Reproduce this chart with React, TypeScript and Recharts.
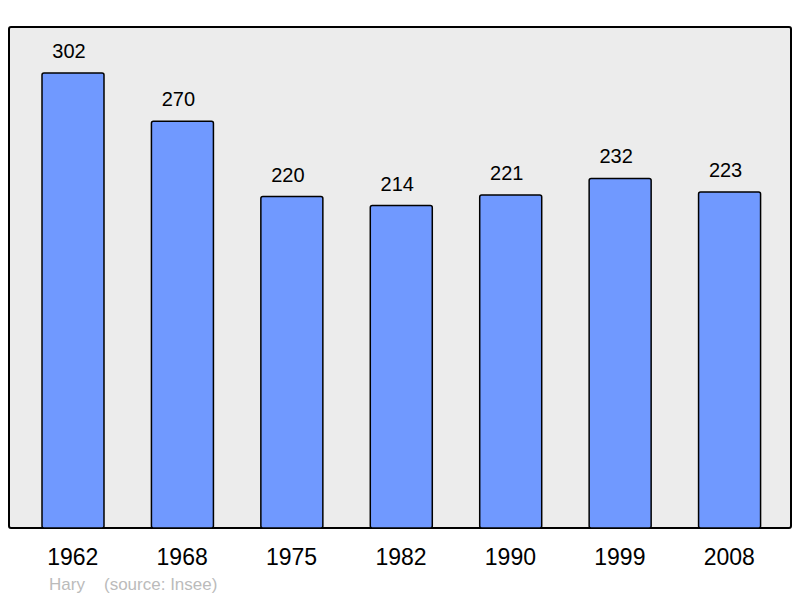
import { BarChart, Bar, XAxis, YAxis, LabelList } from "recharts";

const years = ["1962", "1968", "1975", "1982", "1990", "1999", "2008"];
const population = [302, 270, 220, 214, 221, 232, 223];

const data = years.map((year, i) => ({ year, pop: population[i] }));

const font = '"Liberation Sans", Arial, sans-serif';

const App = () => {
  return (
    <div style={{ position: "absolute", left: 0, top: 0, width: 800, height: 598, background: "#fff" }}>
      {/* grey frame behind the plot */}
      <div
        style={{
          position: "absolute",
          left: 8,
          top: 26,
          width: 784,
          height: 503,
          boxSizing: "border-box",
          border: "2px solid #000",
          borderRadius: 3,
          background: "#ececec",
        }}
      />
      <div style={{ position: "absolute", left: 0, top: 0 }}>
        <BarChart
          width={800}
          height={598}
          data={data}
          margin={{ top: 27, right: 16, bottom: 30, left: 18 }}
        >
          <XAxis
            dataKey="year"
            axisLine={false}
            tickLine={false}
            tickSize={0}
            tickMargin={21}
            height={40}
            interval={0}
            tick={{ fill: "#000", fontSize: 23, fontFamily: font }}
          />
          <YAxis hide domain={[0, 332.5]} />
          <Bar
            dataKey="pop"
            fill="#7099ff"
            stroke="#000"
            strokeWidth={1.5}
            barSize={62}
            radius={2}
            isAnimationActive={false}
          >
            <LabelList
              dataKey="pop"
              position="top"
              offset={15}
              dx={-4}
              style={{ fill: "#000", fontSize: 20, fontFamily: font }}
            />
          </Bar>
        </BarChart>
      </div>
      <div
        style={{
          position: "absolute",
          left: 49,
          top: 575,
          fontFamily: font,
          fontSize: 17,
          color: "#bbbbbb",
          whiteSpace: "pre",
        }}
      >
        Hary
      </div>
      <div
        style={{
          position: "absolute",
          left: 104,
          top: 575,
          fontFamily: font,
          fontSize: 17,
          color: "#bbbbbb",
          whiteSpace: "pre",
        }}
      >
        (source: Insee)
      </div>
    </div>
  );
};

export default App;
